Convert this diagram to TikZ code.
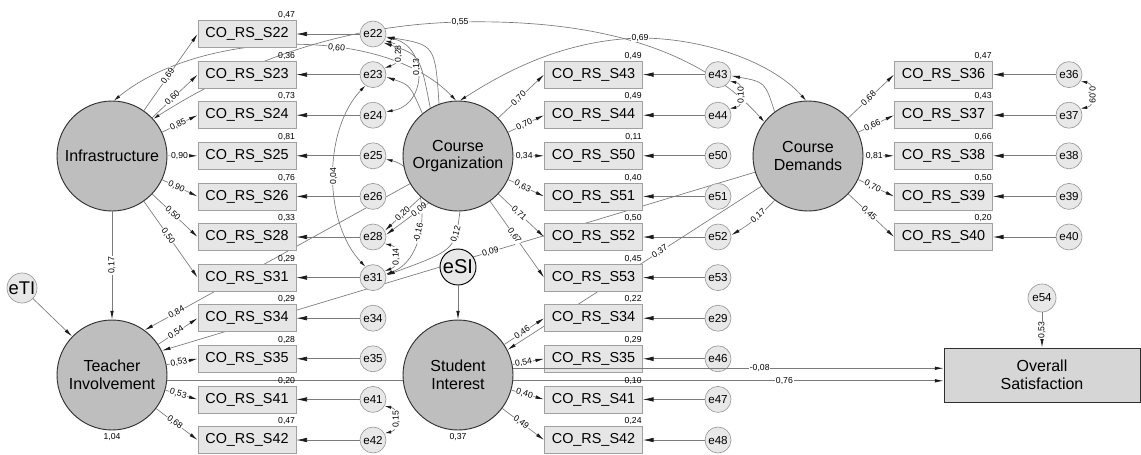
\documentclass[tikz,border=0pt]{standalone}
\usepackage{fontspec}
\setmainfont{Liberation Sans}
\usetikzlibrary{arrows.meta}
\pgfdeclarelayer{bg}
\pgfsetlayers{bg,main}
\definecolor{latfill}{HTML}{BEBEBE}
\definecolor{latdraw}{HTML}{303030}
\definecolor{boxfill}{HTML}{E6E6E6}
\definecolor{boxdraw}{HTML}{A0A0A0}
\definecolor{errfill}{HTML}{E8E8E8}
\definecolor{errdraw}{HTML}{9A9A9A}
\definecolor{linecol}{HTML}{7A7A7A}
\definecolor{tipcol}{HTML}{1A1A1A}
\definecolor{osfill}{HTML}{D6D6D6}
\newcommand\mkobs[7]{%
  \node[obs] (#1) at (#3,#4) {CO\_RS\_S#2};
  \node[rsq] at (#1.north east) {#5};
  \node[err] (e#6) at (#7,#4) {e#6};
  \draw[errarr] (e#6) -- (#1);
}
\begin{document}
\begin{tikzpicture}[x=0.75pt,y=-0.75pt,
  obs/.style={draw=boxdraw,fill=boxfill,line width=0.6pt,minimum width=73.5pt,minimum height=20.25pt,inner sep=0pt,font=\fontsize{10.8}{12}\selectfont},
  lat/.style={circle,draw=latdraw,fill=latfill,line width=0.7pt,minimum size=82.5pt,inner sep=0pt,align=center,font=\fontsize{12}{13.2}\selectfont},
  err/.style={circle,draw=errdraw,fill=errfill,line width=0.5pt,minimum size=19.5pt,inner sep=0pt,font=\fontsize{8.7}{10}\selectfont},
  lab/.style={font=\fontsize{6.5}{7}\selectfont,inner sep=0.6pt,fill=white},
  rsq/.style={font=\fontsize{6.5}{7}\selectfont,inner sep=0.8pt,anchor=south east},
  arr/.style={draw=linecol,line width=0.5pt,-{Latex[length=6.5pt,width=2.6pt,color=tipcol]}},
  darr/.style={draw=linecol,line width=0.5pt,{Latex[length=5pt,width=2.4pt,color=tipcol]}-{Latex[length=5pt,width=2.4pt,color=tipcol]}},
  errarr/.style={draw=linecol,line width=0.5pt,-{Latex[length=8pt,width=3.4pt,color=tipcol]}},
]
\useasboundingbox (0,0) rectangle (1141,454);

% latent variables
\node[lat] (Inf) at (112,156) {Infrastructure};
\node[lat] (TI) at (112,375) {Teacher\\Involvement};
\node[lat] (CO) at (458,156) {Course\\Organization};
\node[lat] (SI) at (458,375) {Student\\Interest};
\node[lat] (CD) at (808,156) {Course\\Demands};

% observed variables with errors
\mkobs{L22}{22}{247}{34}{0,47}{22}{373}
\mkobs{L23}{23}{247}{74.6}{0,36}{23}{373}
\mkobs{L24}{24}{247}{115.2}{0,73}{24}{373}
\mkobs{L25}{25}{247}{155.8}{0,81}{25}{373}
\mkobs{L26}{26}{247}{196.4}{0,76}{26}{373}
\mkobs{L28}{28}{247}{237}{0,33}{28}{373}
\mkobs{L31}{31}{247}{277.6}{0,29}{31}{373}
\mkobs{L34}{34}{247}{318.2}{0,29}{34}{373}
\mkobs{L35}{35}{247}{358.8}{0,28}{35}{373}
\mkobs{L41}{41}{247}{399.4}{0,20}{41}{373}
\mkobs{L42}{42}{247}{440}{0,47}{42}{373}

\mkobs{M43}{43}{593.5}{74.6}{0,49}{43}{718}
\mkobs{M44}{44}{593.5}{115.2}{0,49}{44}{718}
\mkobs{M50}{50}{593.5}{155.8}{0,11}{50}{718}
\mkobs{M51}{51}{593.5}{196.4}{0,40}{51}{718}
\mkobs{M52}{52}{593.5}{237}{0,50}{52}{718}
\mkobs{M53}{53}{593.5}{277.6}{0,45}{53}{718}
\mkobs{M34}{34}{593.5}{318.2}{0,22}{29}{718}
\mkobs{M35}{35}{593.5}{358.8}{0,29}{46}{718}
\mkobs{M41}{41}{593.5}{399.4}{0,10}{47}{718}
\mkobs{M42}{42}{593.5}{440}{0,24}{48}{718}

\mkobs{R36}{36}{943.5}{74.6}{0,47}{36}{1069}
\mkobs{R37}{37}{943.5}{115.2}{0,43}{37}{1069}
\mkobs{R38}{38}{943.5}{155.8}{0,66}{38}{1069}
\mkobs{R39}{39}{943.5}{196.4}{0,50}{39}{1069}
\mkobs{R40}{40}{943.5}{237}{0,20}{40}{1069}

% other nodes
\node[err,minimum size=22.5pt,font=\fontsize{13.8}{15}\selectfont] (eTI) at (22,288) {eTI};
\node[err,draw=black,line width=0.7pt,minimum size=27pt,font=\fontsize{15}{16}\selectfont] (eSI) at (458,267) {eSI};
\node[err,minimum size=21pt] (e54) at (1042,298) {e54};
\node[draw=latdraw,fill=osfill,line width=0.7pt,minimum width=147pt,minimum height=40.5pt,align=center,font=\fontsize{12}{13.2}\selectfont] (OS) at (1042,375) {Overall\\Satisfaction};

\node[font=\fontsize{6.5}{7}\selectfont] at (112,437) {1,04};
\node[font=\fontsize{6.5}{7}\selectfont] at (458,437) {0,37};

% loadings
\draw[arr] (Inf) -- node[lab,sloped,pos=.45]{0,69} (L22.west);
\draw[arr] (Inf) -- node[lab,sloped,pos=.45]{0,60} (L23.west);
\draw[arr] (Inf) -- node[lab,sloped,pos=.45]{0,85} (L24.west);
\draw[arr] (Inf) -- node[lab,sloped,pos=.4]{0,90} (L25.west);
\draw[arr] (Inf) -- node[lab,sloped,pos=.4]{0,90} (L26.west);
\draw[arr] (Inf) -- node[lab,sloped,pos=.45]{0,50} (L28.west);
\draw[arr] (Inf) -- node[lab,sloped,pos=.45]{0,50} (L31.west);

\draw[arr] (TI) -- node[lab,sloped,pos=.45]{0,54} (L34.west);
\draw[arr] (TI) -- node[lab,sloped,pos=.4]{0,53} (L35.west);
\draw[arr] (TI) -- node[lab,sloped,pos=.4]{0,53} (L41.west);
\draw[arr] (TI) -- node[lab,sloped,pos=.45]{0,68} (L42.west);

\draw[arr] (CO) -- node[lab,sloped,pos=.45]{0,70} (M43.west);
\draw[arr] (CO) -- node[lab,sloped,pos=.45]{0,70} (M44.west);
\draw[arr] (CO) -- node[lab,sloped,pos=.35]{0,34} (M50.west);
\draw[arr] (CO) -- node[lab,sloped,pos=.4]{0,63} (M51.west);
\draw[arr] (CO) -- node[lab,sloped,pos=.45]{0,71} (M52.west);
\draw[arr] (CO) -- node[lab,sloped,pos=.45]{0,67} (M53.west);

\draw[arr] (SI) -- node[lab,sloped,pos=.45]{0,46} (M34.west);
\draw[arr] (SI) -- node[lab,sloped,pos=.35]{0,54} (M35.west);
\draw[arr] (SI) -- node[lab,sloped,pos=.4]{0,40} (M41.west);
\draw[arr] (SI) -- node[lab,sloped,pos=.45]{0,49} (M42.west);

\draw[arr] (CD) -- node[lab,sloped,pos=.45]{0,68} (R36.west);
\draw[arr] (CD) -- node[lab,sloped,pos=.4]{0,66} (R37.west);
\draw[arr] (CD) -- node[lab,sloped,pos=.35]{0,81} (R38.west);
\draw[arr] (CD) -- node[lab,sloped,pos=.4]{0,70} (R39.west);
\draw[arr] (CD) -- node[lab,sloped,pos=.45]{0,45} (R40.west);

% structural paths
\draw[arr] (Inf) -- node[lab,rotate=90]{0,17} (TI);
\draw[arr] (eTI) -- (TI);
\draw[arr] (eSI) -- (SI);
\draw[arr] (e54) -- node[lab,rotate=90]{0,53} (OS);

% covariances and error paths (small)
\draw[darr] (e22.-30) .. controls (403,45) and (403,62) .. node[lab,rotate=90]{0,28} (e23.30);
\draw[darr] (e22.-15) .. controls (428,45) and (428,105) .. node[lab,rotate=90,pos=.42]{0,13} (e24.15);
\draw[darr] (e28.-30) .. controls (400,247) and (400,266) .. node[lab,rotate=90]{0,14} (e31.30);
\draw[darr] (e41.-30) .. controls (400,409) and (400,430) .. node[lab,rotate=90]{0,15} (e42.30);
\draw[darr] (e43.-30) .. controls (745,84) and (745,106) .. node[lab,rotate=90]{0,10} (e44.30);
\draw[darr] (e36.-30) .. controls (1096,84) and (1096,106) .. node[lab,rotate=-90]{0,09} (e37.30);

\draw[arr] (CO.120) .. controls (420,55) .. (e22.-40);
\draw[arr] (CO.110) .. controls (435,45) .. (e22.-12);
\draw[arr] (CO.130) .. controls (410,85) .. (e23.-10);
\draw[arr] (CO.228) -- node[lab,sloped,pos=.5]{0,20} (e28.28);
\draw[arr] (CO.238) -- node[lab,sloped,pos=.22]{0,09} (e28.10);
\draw[arr] (CO.272) .. controls (455,250) .. node[lab,sloped,pos=.25]{0,12} (e31.10);
\draw[arr] (CD.127) .. controls (765,82) .. (e43.-5);
\draw[arr] (CD.233) to[bend left=8] node[lab,sloped,pos=.4]{0,17} (e52.8);

% -0,08 path drawn on top
\draw[arr] (SI.7) -- node[lab,pos=.573]{-0,08} (SI.7 -| OS.west);

\begin{pgfonlayer}{bg}
\draw[arr] (TI.-6) -- node[lab,pos=.795]{0,76} (TI.-6 -| OS.west);
\draw[arr] (CO.210) -- node[lab,sloped,pos=.88]{0,84} (TI.54);
\draw[arr] (CD.197) -- node[lab,sloped,pos=.446]{0,09} (TI.26);
\draw[arr] (CD.213) -- node[lab,sloped,pos=.4]{0,37} (SI.27);
\draw[darr] (Inf.88) .. controls (200,30) and (383,24) .. node[lab,sloped,pos=.62]{0,60} (CO.92);
\draw[darr] (Inf.42) .. controls (230,70) and (330,25) .. node[lab,pos=1]{0,55} (460,22) .. controls (600,19) and (700,50) .. (CD.142);
\draw[darr] (CO.88) .. controls (500,75) and (560,40) .. node[lab,pos=1]{0,69} (640,38) .. controls (700,38) and (770,60) .. (CD.92);
\draw[darr] (e23.235) .. controls (323,130) and (323,222) .. node[lab,rotate=90]{0,04} (e31.125);
\draw[darr] (e25.-15) .. controls (432,170) and (432,258) .. node[lab,sloped,pos=.62]{-0,16} (e31.15);
\end{pgfonlayer}
\end{tikzpicture}
\end{document}
